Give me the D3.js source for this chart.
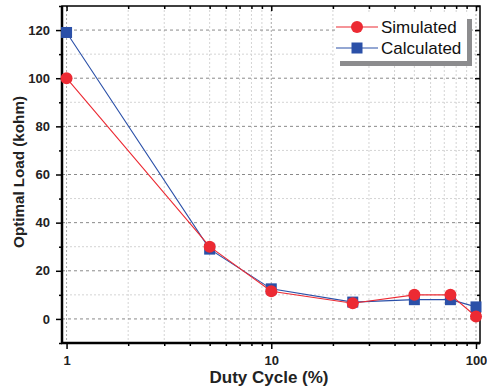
<!DOCTYPE html>
<html>
<head>
<meta charset="utf-8">
<script src="https://cdn.jsdelivr.net/npm/d3@7"></script>
<style>
  html, body { margin: 0; padding: 0; background: #fff; }
  svg { display: block; font-family: Arial, "Liberation Sans", sans-serif; }
</style>
</head>
<body>
<svg id="chart" width="487" height="391"></svg>
<script>
// Duty cycle (%) on a log axis
const dutyCycle = [1, 5, 10, 25, 50, 75, 100];
// Optimal load (kohm)
const simulated = [100, 30, 11.5, 6.5, 10, 10, 1];
const calculated = [119, 29, 12.5, 7, 8, 8, 5];

const xMajorTicks = [1, 10, 100];
const xMinorTicks = [2, 3, 4, 5, 6, 7, 8, 9, 20, 30, 40, 50, 60, 70, 80, 90];
const yMajorTicks = [0, 20, 40, 60, 80, 100, 120];
const yMinorTicks = [-10, 10, 30, 50, 70, 90, 110, 130];

const series = [
  { name: "Calculated", values: calculated, color: "#2b50a8", shape: "square" },
  { name: "Simulated", values: simulated, color: "#ec2a33", shape: "circle" }
];
const legendOrder = ["Simulated", "Calculated"];

const svg = d3.select("#chart");
const plotLeft = 62, plotRight = 480, plotTop = 6, plotBottom = 343;

const x = d3.scaleLog().domain([0.95, 104.6]).range([plotLeft, plotRight]);
const y = d3.scaleLinear().domain([-10, 130]).range([plotBottom, plotTop]);

// grid
const grid = svg.append("g");
grid.selectAll(".vminor").data(xMinorTicks).join("line")
  .attr("x1", d => x(d)).attr("x2", d => x(d)).attr("y1", plotTop).attr("y2", plotBottom)
  .attr("stroke", "#d4d4d4").attr("stroke-width", 1).attr("stroke-dasharray", "2,2");
grid.selectAll(".hminor").data(yMinorTicks.filter(d => d > -10 && d < 130)).join("line")
  .attr("x1", plotLeft).attr("x2", plotRight).attr("y1", d => y(d)).attr("y2", d => y(d))
  .attr("stroke", "#d4d4d4").attr("stroke-width", 1).attr("stroke-dasharray", "2,2");
grid.selectAll(".vmajor").data(xMajorTicks).join("line")
  .attr("x1", d => x(d)).attr("x2", d => x(d)).attr("y1", plotTop).attr("y2", plotBottom)
  .attr("stroke", "#a8a8a8").attr("stroke-width", 1).attr("stroke-dasharray", "2,2");
grid.selectAll(".hmajor").data(yMajorTicks).join("line")
  .attr("x1", plotLeft).attr("x2", plotRight).attr("y1", d => y(d)).attr("y2", d => y(d))
  .attr("stroke", "#8a8a8a").attr("stroke-width", 1).attr("stroke-dasharray", "3,3");

// axes: left/bottom ticks point out, top/right mirrored ticks point in
const axisStyle = g => {
  g.select(".domain").remove();
  g.selectAll("line").attr("stroke", "#000").attr("stroke-width", 1.5);
  g.selectAll("text").attr("font-size", 13).attr("font-weight", "bold").attr("fill", "#222");
};
svg.append("g").attr("transform", `translate(0,${plotBottom})`)
  .call(d3.axisBottom(x).tickValues(xMajorTicks).tickFormat(d3.format("d")).tickSize(6).tickPadding(7))
  .call(axisStyle);
svg.append("g").attr("transform", `translate(0,${plotBottom})`)
  .call(d3.axisBottom(x).tickValues(xMinorTicks).tickFormat("").tickSize(3))
  .call(axisStyle);
svg.append("g").attr("transform", `translate(${plotLeft},0)`)
  .call(d3.axisLeft(y).tickValues(yMajorTicks).tickSize(6).tickPadding(6))
  .call(axisStyle);
svg.append("g").attr("transform", `translate(${plotLeft},0)`)
  .call(d3.axisLeft(y).tickValues(yMinorTicks).tickFormat("").tickSize(3))
  .call(axisStyle);
svg.append("g").attr("transform", `translate(0,${plotTop})`)
  .call(d3.axisBottom(x).tickValues(xMajorTicks).tickFormat("").tickSize(5))
  .call(axisStyle);
svg.append("g").attr("transform", `translate(0,${plotTop})`)
  .call(d3.axisBottom(x).tickValues(xMinorTicks).tickFormat("").tickSize(3))
  .call(axisStyle);
svg.append("g").attr("transform", `translate(${plotRight},0)`)
  .call(d3.axisLeft(y).tickValues(yMajorTicks).tickFormat("").tickSize(5))
  .call(axisStyle);
svg.append("g").attr("transform", `translate(${plotRight},0)`)
  .call(d3.axisLeft(y).tickValues(yMinorTicks).tickFormat("").tickSize(3))
  .call(axisStyle);

// frame
svg.append("rect").attr("x", plotLeft).attr("y", plotTop)
  .attr("width", plotRight - plotLeft).attr("height", plotBottom - plotTop)
  .attr("fill", "none").attr("stroke", "#000").attr("stroke-width", 1.5);
svg.append("line").attr("x1", plotLeft).attr("x2", plotLeft).attr("y1", plotTop).attr("y2", plotBottom + 1)
  .attr("stroke", "#000").attr("stroke-width", 2.5);
svg.append("line").attr("x1", plotLeft - 1).attr("x2", plotRight).attr("y1", plotBottom).attr("y2", plotBottom)
  .attr("stroke", "#000").attr("stroke-width", 2.5);

// series
const line = d3.line().x((d, i) => x(dutyCycle[i])).y(d => y(d));
const drawMarker = (sel, s, cx, cy) => {
  if (s.shape === "circle") {
    sel.append("circle").attr("cx", cx).attr("cy", cy).attr("r", 6).attr("fill", s.color);
  } else {
    sel.append("rect").attr("x", cx - 5.5).attr("y", cy - 5.5).attr("width", 11).attr("height", 11).attr("fill", s.color);
  }
};
series.forEach(s => {
  const g = svg.append("g");
  g.append("path").datum(s.values).attr("d", line).attr("fill", "none")
    .attr("stroke", s.color).attr("stroke-width", 1.1);
  s.values.forEach((v, i) => drawMarker(g, s, x(dutyCycle[i]), y(v)));
});

// legend with drop shadow
const lg = svg.append("g");
lg.append("rect").attr("x", 340).attr("y", 19).attr("width", 132).attr("height", 47).attr("fill", "#8c8c8e");
lg.append("rect").attr("x", 335).attr("y", 14).attr("width", 132).attr("height", 47).attr("fill", "#fff");
legendOrder.forEach((name, i) => {
  const s = series.find(d => d.name === name);
  const ly = 27 + i * 21;
  lg.append("line").attr("x1", 336).attr("x2", 378).attr("y1", ly).attr("y2", ly)
    .attr("stroke", s.color).attr("stroke-width", 1.1);
  drawMarker(lg, s, 357, ly);
  lg.append("text").attr("x", 381).attr("y", ly + 6).attr("font-size", 17).attr("fill", "#111").text(name);
});

// axis titles
svg.append("text").attr("x", 269).attr("y", 383).attr("text-anchor", "middle")
  .attr("font-size", 17).attr("font-weight", "bold").attr("fill", "#222").text("Duty Cycle (%)");
svg.append("text").attr("transform", "translate(23.5,172) rotate(-90)").attr("text-anchor", "middle")
  .attr("font-size", 15.2).attr("font-weight", "bold").attr("fill", "#222").text("Optimal Load (kohm)");
</script>
</body>
</html>
